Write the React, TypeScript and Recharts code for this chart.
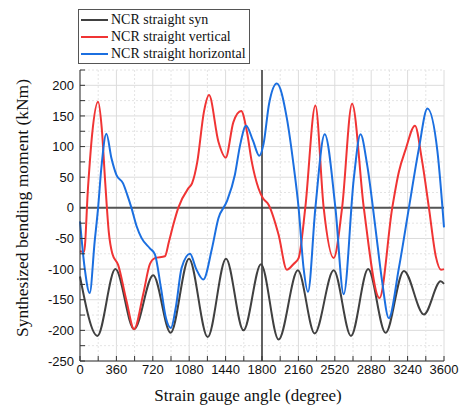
import React from "react";
import { LineChart, Line, XAxis, YAxis, CartesianGrid, ReferenceLine, Legend } from "recharts";

// NCR straight syn
const synAngle = [0, 172, 350, 535, 724, 896, 1078, 1263, 1444, 1617, 1790, 1964, 2155, 2321, 2509, 2680, 2850, 3022, 3203, 3402, 3567, 3600];
const synMoment = [-112, -209, -100, -198, -110, -204, -83, -211, -83, -200, -92, -215, -102, -205, -102, -209, -100, -204, -103, -174, -120, -124];

// NCR straight vertical
const verAngle = [0, 40, 80, 120, 179, 215, 250, 285, 320, 377, 460, 535, 625, 691, 741, 840, 880, 922, 972, 1071, 1108, 1160, 1226, 1276, 1369, 1441, 1517, 1594, 1650, 1699, 1765, 1808, 1865, 1964, 2046, 2110, 2162, 2228, 2328, 2410, 2509, 2592, 2691, 2807, 2962, 3088, 3154, 3220, 3313, 3380, 3451, 3520, 3570, 3600];
const verMoment = [-71, -72, 35, 120, 173, 130, 40, -40, -75, -93, -152, -198, -141, -92, -82, -79, -55, -28, 0, 32, 40, 75, 157, 184, 108, 82, 140, 158, 125, 75, 32, 16, 5, -44, -101, -92, -82, 0, 167, 0, -82, 0, 170, 0, -147, 0, 59, 95, 134, 80, 0, -80, -101, -100];

// NCR straight horizontal
const horAngle = [0, 46, 96, 145, 179, 211, 261, 311, 360, 426, 470, 509, 560, 608, 691, 741, 800, 850, 899, 950, 1005, 1088, 1150, 1220, 1303, 1369, 1451, 1532, 1583, 1643, 1710, 1773, 1815, 1870, 1947, 2046, 2112, 2162, 2211, 2255, 2328, 2420, 2526, 2608, 2708, 2774, 2840, 2922, 2988, 3054, 3154, 3253, 3352, 3436, 3535, 3600];
const horMoment = [-22, -98, -139, -55, 0, 65, 121, 81, 54, 40, 20, 0, -30, -49, -66, -76, -130, -180, -196, -160, -98, -75, -100, -117, -68, -17, 10, 54, 102, 134, 110, 85, 104, 170, 203, 146, 70, 0, -98, -137, 0, 120, 0, -141, 48, 120, 70, -33, -120, -180, -98, 0, 97, 162, 92, -32];

const xMajor = [0, 360, 720, 1080, 1440, 1800, 2160, 2520, 2880, 3240, 3600];
const xMinor = [180, 540, 900, 1260, 1620, 1980, 2340, 2700, 3060, 3420];
const xTicks = [0, 180, 360, 540, 720, 900, 1080, 1260, 1440, 1620, 1800, 1980, 2160, 2340, 2520, 2700, 2880, 3060, 3240, 3420, 3600];
const yMajor = [-250, -200, -150, -100, -50, 0, 50, 100, 150, 200];
const yMinor = [-225, -175, -125, -75, -25, 25, 75, 125, 175, 225];
const yTicks = [-250, -225, -200, -175, -150, -125, -100, -75, -50, -25, 0, 25, 50, 75, 100, 125, 150, 175, 200, 225];

const series = [
  { name: "NCR straight syn", color: "#404040", angle: synAngle, moment: synMoment },
  { name: "NCR straight vertical", color: "#f03434", angle: verAngle, moment: verMoment },
  { name: "NCR straight horizontal", color: "#1b6fe0", angle: horAngle, moment: horMoment },
];

const toRows = (a: number[], m: number[]) => a.map((x, i) => ({ angle: x, moment: m[i] }));

const serif = "'Liberation Serif', 'Times New Roman', serif";
const sans = "'Liberation Sans', Arial, sans-serif";
const axisColor = "#333";

function LegendBox() {
  return (
    <div
      style={{
        border: "1px solid #555",
        background: "#fff",
        padding: "1px 3px 1px 2px",
        fontFamily: serif,
        fontSize: 14,
        lineHeight: "17px",
        color: "#111",
      }}
    >
      {series.map((s) => (
        <div key={s.name} style={{ display: "flex", alignItems: "center", whiteSpace: "nowrap" }}>
          <span style={{ display: "inline-block", width: 27, height: 2, background: s.color, marginRight: 3 }} />
          {s.name}
        </div>
      ))}
    </div>
  );
}

export default function App() {
  return (
    <div style={{ position: "absolute", left: 0, top: 0, width: 461, height: 412, background: "#fff" }}>
      <LineChart width={461} height={412} margin={{ top: 70, right: 17, bottom: 0, left: 0 }}>
        <CartesianGrid horizontalValues={yMajor} verticalValues={xMajor} stroke="#dcdcdc" />
        <CartesianGrid horizontalValues={yMinor} verticalValues={xMinor} stroke="#e4e4e4" strokeDasharray="2 2" />
        <XAxis
          dataKey="angle"
          type="number"
          domain={[0, 3600]}
          ticks={xTicks}
          interval={0}
          height={51}
          tickSize={-5}
          tickMargin={9}
          tickFormatter={(v: number) => (xMajor.includes(v) ? String(v) : "")}
          stroke={axisColor}
          tick={{ fill: "#111", fontSize: 13, fontFamily: sans }}
          label={{
            content: () => (
              <text x={248} y={401} textAnchor="middle" fontFamily={serif} fontSize={17} fill="#111">
                Strain gauge angle (degree)
              </text>
            ),
          }}
        />
        <XAxis xAxisId="top" orientation="top" type="number" domain={[0, 3600]} ticks={xTicks} interval={0} height={0} tickSize={-5} tick={false} stroke={axisColor} />
        <YAxis
          type="number"
          domain={[-250, 225]}
          ticks={yTicks}
          interval={0}
          width={80}
          tickSize={-5}
          tickMargin={11}
          tickFormatter={(v: number) => (yMajor.includes(v) ? String(v) : "")}
          stroke={axisColor}
          tick={{ fill: "#111", fontSize: 13, fontFamily: sans }}
          label={{
            content: () => {
              const cx = 22;
              const cy = 208;
              return (
                <text x={cx} y={cy} transform={`rotate(-90 ${cx} ${cy})`} textAnchor="middle" dominantBaseline="central" fontFamily={serif} fontSize={17.5} fill="#111">
                  Synthesized bending moment (kNm)
                </text>
              );
            },
          }}
        />
        <YAxis yAxisId="right" orientation="right" type="number" domain={[-250, 225]} ticks={yTicks} interval={0} width={0} tickSize={-5} tick={false} stroke={axisColor} />
        <ReferenceLine y={0} stroke="#555" strokeWidth={2} />
        <ReferenceLine x={1800} stroke="#333" strokeWidth={1.5} />
        {series.map((s) => (
          <Line
            key={s.name}
            data={toRows(s.angle, s.moment)}
            dataKey="moment"
            name={s.name}
            type="monotone"
            stroke={s.color}
            strokeWidth={2}
            dot={false}
            isAnimationActive={false}
          />
        ))}
        <Legend
          layout="vertical"
          align="center"
          verticalAlign="middle"
          wrapperStyle={{ position: "absolute", top: 9, left: 78, width: "auto" }}
          content={() => <LegendBox />}
        />
      </LineChart>
    </div>
  );
}
